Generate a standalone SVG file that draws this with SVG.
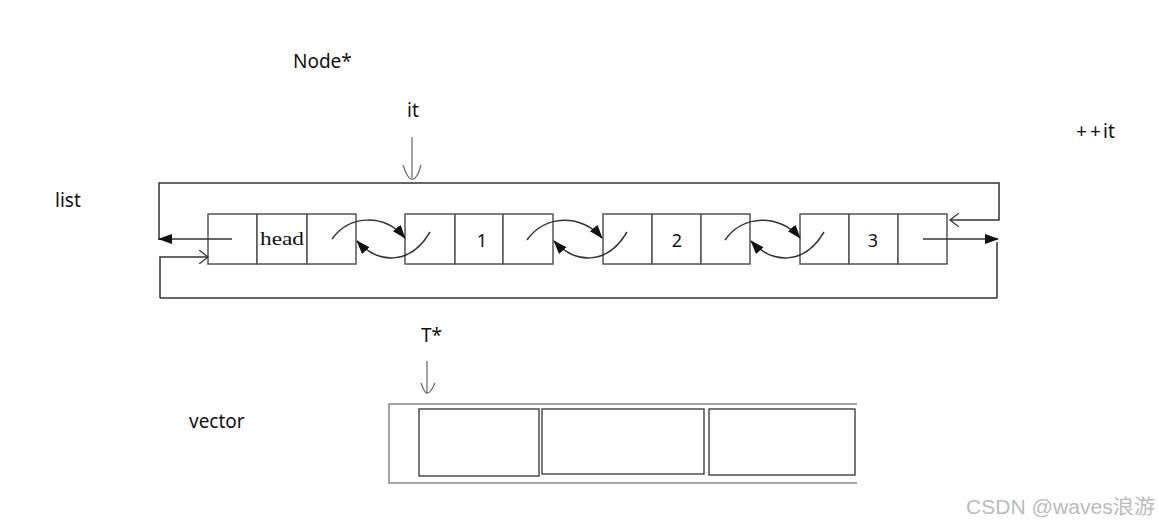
<svg xmlns="http://www.w3.org/2000/svg" width="1158" height="527" viewBox="0 0 1158 527">
<style>
.cell{fill:#fff;stroke:#555;stroke-width:1.5}
.ln{fill:none;stroke:#333;stroke-width:1.5}
.thin{fill:none;stroke:#666;stroke-width:1.2}
.lbl{font-family:"Noto Sans","Open Sans",sans-serif;font-size:19px;fill:#111}
.num{font-family:"Noto Sans",sans-serif;font-size:18px;fill:#111;text-anchor:middle}
.hd{font-family:"Liberation Serif",serif;font-size:19px;fill:#111}
.vbox{fill:#fff;stroke:#222;stroke-width:1.2}
</style>
<defs>
<marker id="fa" viewBox="0 0 14 10" refX="13" refY="5" markerWidth="14" markerHeight="10" markerUnits="userSpaceOnUse" orient="auto">
<path d="M0,0 L14,5 L0,10 Z" fill="#111"/>
</marker>
<marker id="oa" viewBox="0 0 10 14" refX="9" refY="7" markerWidth="10" markerHeight="14" markerUnits="userSpaceOnUse" orient="auto">
<path d="M0,0 L9,7 L0,14" fill="none" stroke="#333" stroke-width="1.3"/>
</marker>
</defs>
<rect width="1158" height="527" fill="#fff"/>

<g id="labels">
<text class="lbl" x="293" y="68">Node*</text>
<text class="lbl" x="407" y="117">it</text>
<text class="lbl" y="138"><tspan x="1076">+</tspan><tspan x="1090">+</tspan><tspan x="1103">it</tspan></text>
<text class="lbl" x="55" y="207">list</text>
<text class="lbl" x="421" y="342">T*</text>
<text class="lbl" x="189" y="428">vector</text>
<text x="966" y="514" textLength="189" lengthAdjust="spacingAndGlyphs" style="font-family:'Liberation Sans','Noto Sans CJK SC',sans-serif;font-size:20px;fill:#bbb">CSDN @waves浪游</text>
</g>

<g id="node-head">
<rect class="cell" x="208" y="214" width="49" height="50"/>
<rect class="cell" x="257" y="214" width="50" height="50"/>
<rect class="cell" x="307" y="214" width="49" height="50"/>
<text class="hd" x="260" y="245" textLength="44" lengthAdjust="spacingAndGlyphs">head</text>
</g>
<g id="node-1">
<rect class="cell" x="405" y="214" width="50" height="50"/>
<rect class="cell" x="455" y="214" width="48" height="50"/>
<rect class="cell" x="503" y="214" width="50" height="50"/>
<text class="num" x="482" y="247">1</text>
</g>
<g id="node-2">
<rect class="cell" x="603" y="214" width="49" height="50"/>
<rect class="cell" x="652" y="214" width="49" height="50"/>
<rect class="cell" x="701" y="214" width="49" height="50"/>
<text class="num" x="677" y="247">2</text>
</g>
<g id="node-3">
<rect class="cell" x="800" y="214" width="49" height="50"/>
<rect class="cell" x="849" y="214" width="49" height="50"/>
<rect class="cell" x="898" y="214" width="49" height="50"/>
<text class="num" x="873" y="247">3</text>
</g>

<g id="vector">
<polyline points="857,404 389,404 389,483 857,483" fill="none" stroke="#888" stroke-width="1.5"/>
<rect class="vbox" x="419" y="409" width="120" height="67"/>
<rect class="vbox" x="542" y="409" width="162" height="65" stroke="#555"/>
<rect class="vbox" x="709" y="409" width="146" height="66"/>
</g>

<g id="connectors">
<path class="thin" d="M412,137 L412,178"/>
<path class="thin" d="M403,165 Q408,180 412,179 Q417,180 421,165"/>
<path class="thin" d="M427,361 L427,393"/>
<path class="thin" d="M421,383 Q425,394 427,393 Q430,394 435,383"/>
<polyline class="ln" points="159,240 159,183 999,183 999,220 950,220" marker-end="url(#oa)" stroke-width="1.8"/>
<path class="ln" d="M232,239 L159,239" marker-end="url(#fa)"/>
<polyline class="ln" points="160,298 160,257 208,257" marker-end="url(#oa)"/>
<line class="ln" x1="160" y1="298" x2="997" y2="298"/>
<path class="ln" d="M923,239 L998,239" marker-end="url(#fa)"/>
<line class="ln" x1="997" y1="242" x2="997" y2="298"/>
<path class="ln" d="M332,239 C350,214 385,214 405,238" marker-end="url(#fa)"/>
<path class="ln" d="M430,232 C410,266 378,264 357,241" marker-end="url(#fa)"/>
<path class="ln" d="M527,240 C545,214 582,214 602,238" marker-end="url(#fa)"/>
<path class="ln" d="M627,232 C607,266 575,264 554,241" marker-end="url(#fa)"/>
<path class="ln" d="M725,240 C743,214 780,214 800,238" marker-end="url(#fa)"/>
<path class="ln" d="M824,232 C804,266 772,264 751,241" marker-end="url(#fa)"/>
</g>
</svg>
